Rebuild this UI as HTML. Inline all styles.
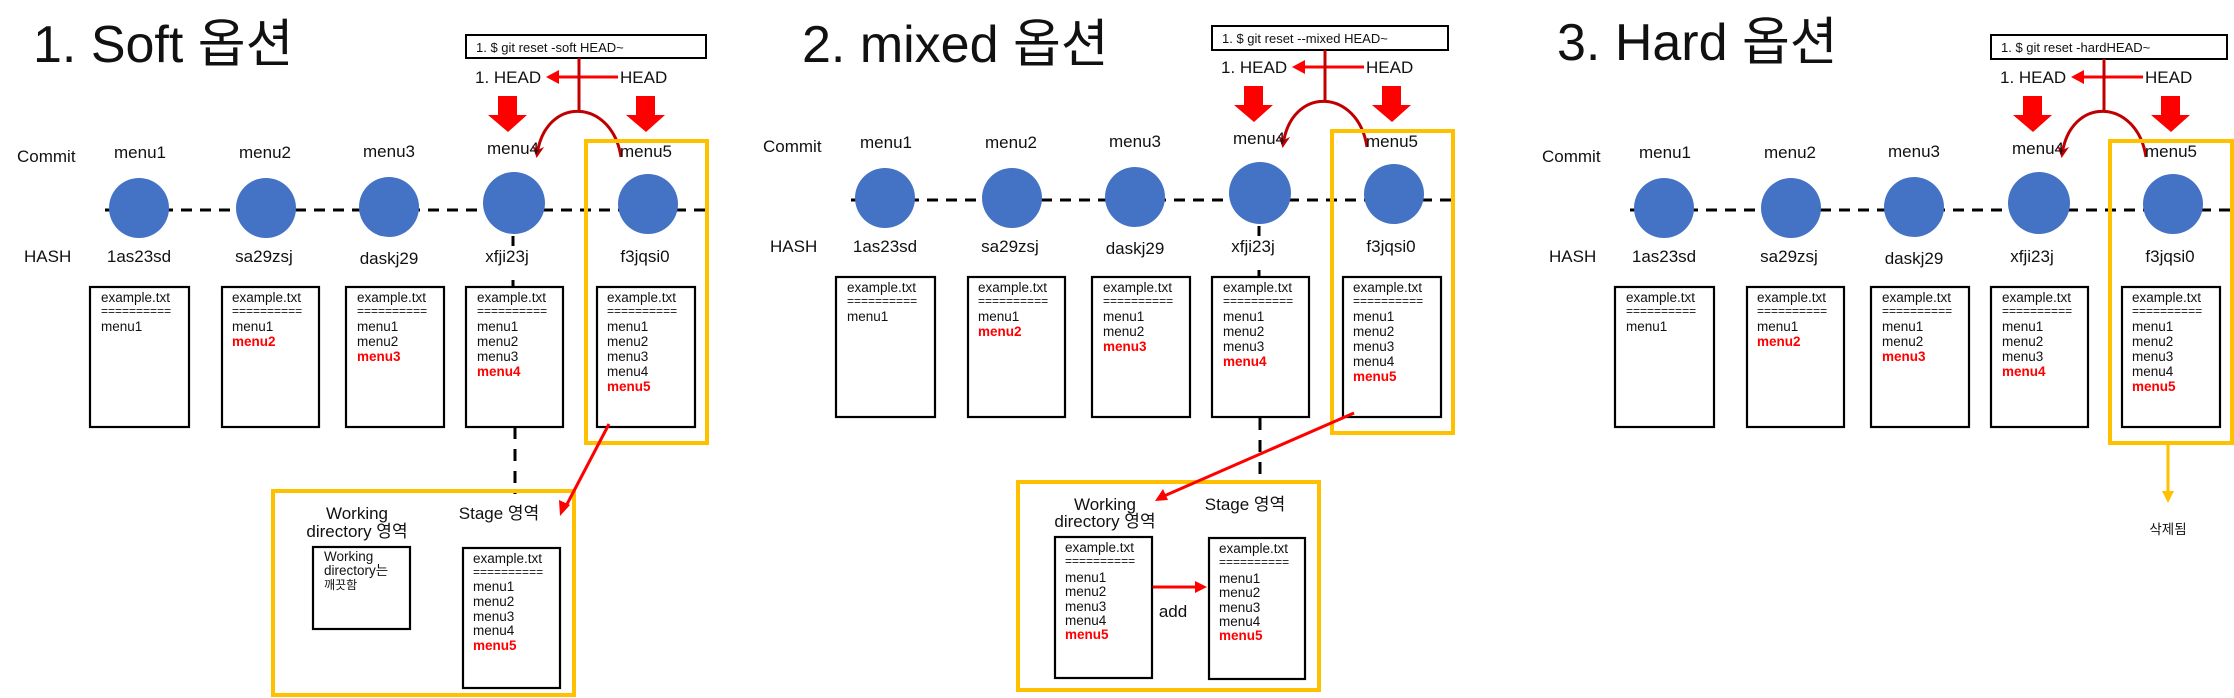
<!DOCTYPE html>
<html><head><meta charset="utf-8"><style>
html,body{margin:0;padding:0;background:#fff;}
svg{display:block;}
text{font-family:"Liberation Sans","Noto Sans CJK KR",sans-serif;fill:#111;}
.t{font-size:17px;}
.b{font-size:13.5px;}
.e{font-size:12px;}
.r{fill:#FF0000;font-weight:bold;}
.bx{fill:#fff;stroke:#000;stroke-width:2.2;}
.or{fill:none;stroke:#FFC000;stroke-width:4;}
.cir{fill:#4472C4;}
</style></head><body>
<svg width="2234" height="698" viewBox="0 0 2234 698" xmlns="http://www.w3.org/2000/svg">
<defs>
<marker id="ahd" markerWidth="12" markerHeight="12" refX="9" refY="6" orient="auto" markerUnits="userSpaceOnUse"><path d="M0,0 L12,6 L0,12 L4,6 z" fill="#C00000"/></marker>
<marker id="aho" markerWidth="12" markerHeight="12" refX="9" refY="6" orient="auto" markerUnits="userSpaceOnUse"><path d="M0,0 L12,6 L0,12 z" fill="#FFC000"/></marker>
</defs>

<text x="33" y="62" style="font-size:52px">1. Soft 옵션</text>
<text x="802" y="62" style="font-size:52px">2. mixed 옵션</text>
<text x="1557" y="60" style="font-size:52px">3. Hard 옵션</text>

<g>
<rect x="466" y="35" width="240" height="23" fill="#fff" stroke="#000" stroke-width="2"/>
<text x="476" y="52" style="font-size:13px">1. $ git reset -soft HEAD~</text>
<text x="475" y="83" class="t">1. HEAD</text><text x="620" y="83" class="t">HEAD</text>
<line x1="618" y1="77" x2="556" y2="77" stroke="#FF0000" stroke-width="3"/><path d="M546,77 L559,70 L559,84 z" fill="#FF0000"/>
<line x1="579" y1="58" x2="579" y2="110" stroke="#C00000" stroke-width="3"/>
<path d="M621,157 C612,98 545,95 537,155" fill="none" stroke="#C00000" stroke-width="3" marker-end="url(#ahd)"/>
<path d="M498,96 H517 V115 H527 L508,132 L488,115 H498 z" fill="#FF0000"/>
<path d="M636,96 H655 V115 H665 L646,132 L626,115 H636 z" fill="#FF0000"/>
<text x="17" y="162" class="t">Commit</text>
<text x="140" y="158" class="t" text-anchor="middle">menu1</text>
<text x="265" y="158" class="t" text-anchor="middle">menu2</text>
<text x="389" y="157" class="t" text-anchor="middle">menu3</text>
<text x="513" y="154" class="t" text-anchor="middle">menu4</text>
<text x="646" y="157" class="t" text-anchor="middle">menu5</text>
<line x1="105" y1="210" x2="706" y2="210" stroke="#000" stroke-width="3" stroke-dasharray="11,8"/>
<line x1="513" y1="236" x2="513" y2="287" stroke="#000" stroke-width="3" stroke-dasharray="12,10"/>
<circle cx="139" cy="208" r="30" class="cir"/><circle cx="266" cy="208" r="30" class="cir"/><circle cx="389" cy="207" r="30" class="cir"/><circle cx="514" cy="203" r="31" class="cir"/><circle cx="648" cy="204" r="30" class="cir"/>
<text x="24" y="262" class="t">HASH</text>
<rect x="490" y="246" width="48" height="24" fill="#fff"/>
<text x="139" y="262" class="t" text-anchor="middle">1as23sd</text>
<text x="264" y="262" class="t" text-anchor="middle">sa29zsj</text>
<text x="389" y="264" class="t" text-anchor="middle">daskj29</text>
<text x="507" y="262" class="t" text-anchor="middle">xfji23j</text>
<text x="645" y="262" class="t" text-anchor="middle">f3jqsi0</text>
<rect x="90" y="287" width="99" height="140" class="bx"/>
<rect x="222" y="287" width="97" height="140" class="bx"/>
<rect x="346" y="287" width="98" height="140" class="bx"/>
<rect x="466" y="287" width="97" height="140" class="bx"/>
<rect x="597" y="287" width="98" height="140" class="bx"/>
<text x="101" y="302" class="b">example.txt</text><text x="101" y="315" class="e">==========</text><text x="101" y="331" class="b">menu1</text>
<text x="232" y="302" class="b">example.txt</text><text x="232" y="315" class="e">==========</text><text x="232" y="331" class="b">menu1</text><text x="232" y="346" class="b r">menu2</text>
<text x="357" y="302" class="b">example.txt</text><text x="357" y="315" class="e">==========</text><text x="357" y="331" class="b">menu1</text><text x="357" y="346" class="b">menu2</text><text x="357" y="361" class="b r">menu3</text>
<text x="477" y="302" class="b">example.txt</text><text x="477" y="315" class="e">==========</text><text x="477" y="331" class="b">menu1</text><text x="477" y="346" class="b">menu2</text><text x="477" y="361" class="b">menu3</text><text x="477" y="376" class="b r">menu4</text>
<text x="607" y="302" class="b">example.txt</text><text x="607" y="315" class="e">==========</text><text x="607" y="331" class="b">menu1</text><text x="607" y="346" class="b">menu2</text><text x="607" y="361" class="b">menu3</text><text x="607" y="376" class="b">menu4</text><text x="607" y="391" class="b r">menu5</text>
<rect x="586" y="141" width="121" height="302" class="or"/>
</g>

<g transform="translate(746,-10)">
<rect x="466" y="36" width="236" height="24" fill="#fff" stroke="#000" stroke-width="2"/>
<text x="476" y="53" style="font-size:13px">1. $ git reset  --mixed HEAD~</text>
<text x="475" y="83" class="t">1. HEAD</text><text x="620" y="83" class="t">HEAD</text>
<line x1="618" y1="77" x2="556" y2="77" stroke="#FF0000" stroke-width="3"/><path d="M546,77 L559,70 L559,84 z" fill="#FF0000"/>
<line x1="579" y1="60" x2="579" y2="110" stroke="#C00000" stroke-width="3"/>
<path d="M621,157 C612,98 545,95 537,155" fill="none" stroke="#C00000" stroke-width="3" marker-end="url(#ahd)"/>
<path d="M498,96 H517 V115 H527 L508,132 L488,115 H498 z" fill="#FF0000"/>
<path d="M636,96 H655 V115 H665 L646,132 L626,115 H636 z" fill="#FF0000"/>
<text x="17" y="162" class="t">Commit</text>
<text x="140" y="158" class="t" text-anchor="middle">menu1</text>
<text x="265" y="158" class="t" text-anchor="middle">menu2</text>
<text x="389" y="157" class="t" text-anchor="middle">menu3</text>
<text x="513" y="154" class="t" text-anchor="middle">menu4</text>
<text x="646" y="157" class="t" text-anchor="middle">menu5</text>
<line x1="105" y1="210" x2="706" y2="210" stroke="#000" stroke-width="3" stroke-dasharray="11,8"/>
<line x1="513" y1="236" x2="513" y2="287" stroke="#000" stroke-width="3" stroke-dasharray="12,10"/>
<circle cx="139" cy="208" r="30" class="cir"/><circle cx="266" cy="208" r="30" class="cir"/><circle cx="389" cy="207" r="30" class="cir"/><circle cx="514" cy="203" r="31" class="cir"/><circle cx="648" cy="204" r="30" class="cir"/>
<text x="24" y="262" class="t">HASH</text>
<rect x="490" y="246" width="48" height="24" fill="#fff"/>
<text x="139" y="262" class="t" text-anchor="middle">1as23sd</text>
<text x="264" y="262" class="t" text-anchor="middle">sa29zsj</text>
<text x="389" y="264" class="t" text-anchor="middle">daskj29</text>
<text x="507" y="262" class="t" text-anchor="middle">xfji23j</text>
<text x="645" y="262" class="t" text-anchor="middle">f3jqsi0</text>
<rect x="90" y="287" width="99" height="140" class="bx"/>
<rect x="222" y="287" width="97" height="140" class="bx"/>
<rect x="346" y="287" width="98" height="140" class="bx"/>
<rect x="466" y="287" width="97" height="140" class="bx"/>
<rect x="597" y="287" width="98" height="140" class="bx"/>
<text x="101" y="302" class="b">example.txt</text><text x="101" y="315" class="e">==========</text><text x="101" y="331" class="b">menu1</text>
<text x="232" y="302" class="b">example.txt</text><text x="232" y="315" class="e">==========</text><text x="232" y="331" class="b">menu1</text><text x="232" y="346" class="b r">menu2</text>
<text x="357" y="302" class="b">example.txt</text><text x="357" y="315" class="e">==========</text><text x="357" y="331" class="b">menu1</text><text x="357" y="346" class="b">menu2</text><text x="357" y="361" class="b r">menu3</text>
<text x="477" y="302" class="b">example.txt</text><text x="477" y="315" class="e">==========</text><text x="477" y="331" class="b">menu1</text><text x="477" y="346" class="b">menu2</text><text x="477" y="361" class="b">menu3</text><text x="477" y="376" class="b r">menu4</text>
<text x="607" y="302" class="b">example.txt</text><text x="607" y="315" class="e">==========</text><text x="607" y="331" class="b">menu1</text><text x="607" y="346" class="b">menu2</text><text x="607" y="361" class="b">menu3</text><text x="607" y="376" class="b">menu4</text><text x="607" y="391" class="b r">menu5</text>
<rect x="586" y="141" width="121" height="302" class="or"/>
</g>

<g transform="translate(1525,0)">
<rect x="466" y="35" width="236" height="24" fill="#fff" stroke="#000" stroke-width="2"/>
<text x="476" y="52" style="font-size:13px">1. $ git reset -hardHEAD~</text>
<text x="475" y="83" class="t">1. HEAD</text><text x="620" y="83" class="t">HEAD</text>
<line x1="618" y1="77" x2="556" y2="77" stroke="#FF0000" stroke-width="3"/><path d="M546,77 L559,70 L559,84 z" fill="#FF0000"/>
<line x1="579" y1="59" x2="579" y2="110" stroke="#C00000" stroke-width="3"/>
<path d="M621,157 C612,98 545,95 537,155" fill="none" stroke="#C00000" stroke-width="3" marker-end="url(#ahd)"/>
<path d="M498,96 H517 V115 H527 L508,132 L488,115 H498 z" fill="#FF0000"/>
<path d="M636,96 H655 V115 H665 L646,132 L626,115 H636 z" fill="#FF0000"/>
<text x="17" y="162" class="t">Commit</text>
<text x="140" y="158" class="t" text-anchor="middle">menu1</text>
<text x="265" y="158" class="t" text-anchor="middle">menu2</text>
<text x="389" y="157" class="t" text-anchor="middle">menu3</text>
<text x="513" y="154" class="t" text-anchor="middle">menu4</text>
<text x="646" y="157" class="t" text-anchor="middle">menu5</text>
<line x1="105" y1="210" x2="709" y2="210" stroke="#000" stroke-width="3" stroke-dasharray="11,8"/>
<circle cx="139" cy="208" r="30" class="cir"/><circle cx="266" cy="208" r="30" class="cir"/><circle cx="389" cy="207" r="30" class="cir"/><circle cx="514" cy="203" r="31" class="cir"/><circle cx="648" cy="204" r="30" class="cir"/>
<text x="24" y="262" class="t">HASH</text>
<text x="139" y="262" class="t" text-anchor="middle">1as23sd</text>
<text x="264" y="262" class="t" text-anchor="middle">sa29zsj</text>
<text x="389" y="264" class="t" text-anchor="middle">daskj29</text>
<text x="507" y="262" class="t" text-anchor="middle">xfji23j</text>
<text x="645" y="262" class="t" text-anchor="middle">f3jqsi0</text>
<rect x="90" y="287" width="99" height="140" class="bx"/>
<rect x="222" y="287" width="97" height="140" class="bx"/>
<rect x="346" y="287" width="98" height="140" class="bx"/>
<rect x="466" y="287" width="97" height="140" class="bx"/>
<rect x="597" y="287" width="98" height="140" class="bx"/>
<text x="101" y="302" class="b">example.txt</text><text x="101" y="315" class="e">==========</text><text x="101" y="331" class="b">menu1</text>
<text x="232" y="302" class="b">example.txt</text><text x="232" y="315" class="e">==========</text><text x="232" y="331" class="b">menu1</text><text x="232" y="346" class="b r">menu2</text>
<text x="357" y="302" class="b">example.txt</text><text x="357" y="315" class="e">==========</text><text x="357" y="331" class="b">menu1</text><text x="357" y="346" class="b">menu2</text><text x="357" y="361" class="b r">menu3</text>
<text x="477" y="302" class="b">example.txt</text><text x="477" y="315" class="e">==========</text><text x="477" y="331" class="b">menu1</text><text x="477" y="346" class="b">menu2</text><text x="477" y="361" class="b">menu3</text><text x="477" y="376" class="b r">menu4</text>
<text x="607" y="302" class="b">example.txt</text><text x="607" y="315" class="e">==========</text><text x="607" y="331" class="b">menu1</text><text x="607" y="346" class="b">menu2</text><text x="607" y="361" class="b">menu3</text><text x="607" y="376" class="b">menu4</text><text x="607" y="391" class="b r">menu5</text>
<rect x="585" y="141" width="122" height="302" class="or"/>
<line x1="643" y1="443" x2="643" y2="500" stroke="#FFC000" stroke-width="3" marker-end="url(#aho)"/>
<text x="643" y="534" class="b" text-anchor="middle">삭제됨</text>
</g>

<line x1="515" y1="427" x2="515" y2="494" stroke="#000" stroke-width="3" stroke-dasharray="12,10"/>
<rect x="273" y="491" width="301" height="204" class="or"/>
<line x1="609" y1="424" x2="565" y2="508" stroke="#FF0000" stroke-width="3"/>
<path d="M560,516 L559,500 L570,505 z" fill="#FF0000"/>
<text x="357" y="519" class="t" text-anchor="middle">Working</text>
<text x="357" y="537" class="t" text-anchor="middle">directory 영역</text>
<text x="499" y="519" class="t" text-anchor="middle">Stage 영역</text>
<rect x="313" y="547" width="97" height="82" class="bx"/>
<text x="324" y="561" class="b">Working</text>
<text x="324" y="575" class="b">directory는</text>
<text x="324" y="589" class="b" style="font-size:12px">깨끗함</text>
<rect x="463" y="548" width="97" height="140" class="bx"/>
<text x="473" y="563" class="b">example.txt</text><text x="473" y="576" class="e">==========</text>
<text x="473" y="591" class="b">menu1</text><text x="473" y="606" class="b">menu2</text><text x="473" y="621" class="b">menu3</text><text x="473" y="635" class="b">menu4</text><text x="473" y="650" class="b r">menu5</text>

<line x1="1260" y1="418" x2="1260" y2="484" stroke="#000" stroke-width="3" stroke-dasharray="12,10"/>
<rect x="1018" y="482" width="301" height="208" class="or"/>
<line x1="1354" y1="413" x2="1164" y2="496" stroke="#FF0000" stroke-width="3"/>
<path d="M1155,501 L1163,489 L1168,500 z" fill="#FF0000"/>
<text x="1105" y="510" class="t" text-anchor="middle">Working</text>
<text x="1105" y="527" class="t" text-anchor="middle">directory 영역</text>
<text x="1245" y="510" class="t" text-anchor="middle">Stage 영역</text>
<rect x="1055" y="537" width="97" height="141" class="bx"/>
<text x="1065" y="552" class="b">example.txt</text><text x="1065" y="565" class="e">==========</text>
<text x="1065" y="582" class="b">menu1</text><text x="1065" y="596" class="b">menu2</text><text x="1065" y="611" class="b">menu3</text><text x="1065" y="625" class="b">menu4</text><text x="1065" y="639" class="b r">menu5</text>
<rect x="1209" y="538" width="96" height="141" class="bx"/>
<text x="1219" y="553" class="b">example.txt</text><text x="1219" y="566" class="e">==========</text>
<text x="1219" y="583" class="b">menu1</text><text x="1219" y="597" class="b">menu2</text><text x="1219" y="612" class="b">menu3</text><text x="1219" y="626" class="b">menu4</text><text x="1219" y="640" class="b r">menu5</text>
<line x1="1153" y1="587" x2="1197" y2="587" stroke="#FF0000" stroke-width="3"/>
<path d="M1207,587 L1195,581 L1195,593 z" fill="#FF0000"/>
<text x="1173" y="617" class="t" text-anchor="middle">add</text>
</svg>
</body></html>
